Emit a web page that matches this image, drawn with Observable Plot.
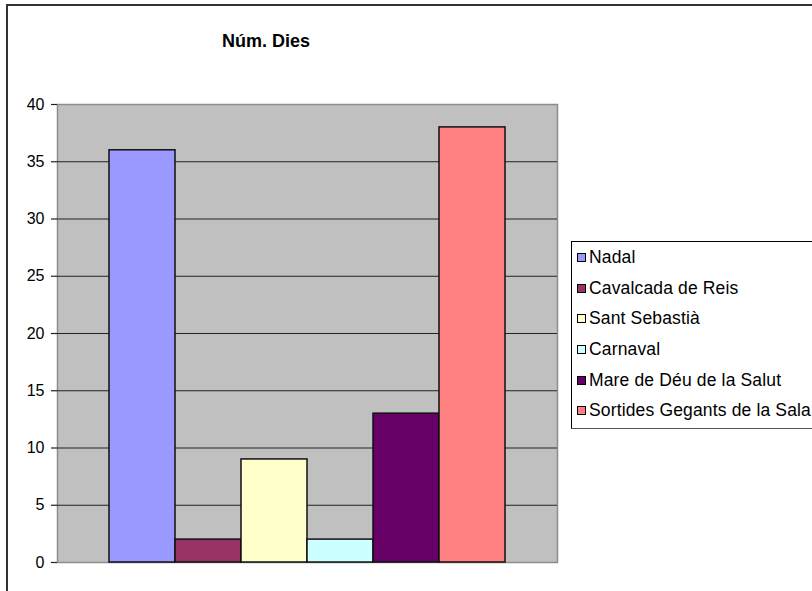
<!DOCTYPE html>
<html>
<head>
<meta charset="utf-8">
<script src="https://cdn.jsdelivr.net/npm/d3@7"></script>
<script src="https://cdn.jsdelivr.net/npm/@observablehq/plot@0.6"></script>
<style>
  html, body { margin: 0; padding: 0; background: #fff; }
  #wrap { position: relative; width: 812px; height: 591px; overflow: hidden; font-family: "Liberation Sans", Arial, sans-serif; }
  #outer { position: absolute; left: 6px; top: 4px; width: 900px; height: 700px; border: 2px solid #333; }
  #title { position: absolute; left: 0; width: 532px; top: 30px; text-align: center; font-family: "Liberation Sans Narrow", "Liberation Sans", Arial, sans-serif; font-weight: bold; font-size: 18px; line-height: 22px; color: #000; }
  #chart { position: absolute; left: 0; top: 0; }
  #legend { position: absolute; left: 571px; top: 241px; width: 300px; height: 186px; border: 1px solid #000; border-bottom-color: #555; background: #fff; }
  .item { height: 30.7px; display: flex; align-items: center; font-size: 17.5px; color: #000; white-space: nowrap; letter-spacing: 0.15px; }
  .sw { width: 7px; height: 7px; border: 1px solid #000; margin-left: 5px; margin-right: 3px; flex: none; }
</style>
</head>
<body>
<div id="wrap">
  <div id="outer"></div>
  <div id="chart"></div>
  <div id="title"></div>
  <div id="legend"></div>
</div>
<script>
const titleText = "Núm. Dies";
const categories = ["Nadal", "Cavalcada de Reis", "Sant Sebastià", "Carnaval", "Mare de Déu de la Salut", "Sortides Gegants de la Sala"];
const values = [36, 2, 9, 2, 13, 38];
const colors = ["#9999ff", "#993366", "#ffffcc", "#ccffff", "#660066", "#ff8080"];
const yTicks = [0, 5, 10, 15, 20, 25, 30, 35, 40];

const data = categories.map((name, i) => ({name, value: values[i]}));

const chart = Plot.plot({
  width: 812,
  height: 591,
  marginLeft: 57,
  marginRight: 255,
  marginTop: 104,
  marginBottom: 29,
  style: { fontFamily: "'Liberation Sans', Arial, sans-serif", fontSize: "16px", color: "#000", background: "transparent", overflow: "visible" },
  x: { domain: categories, paddingInner: 0, paddingOuter: 0.75, axis: null },
  y: { domain: [0, 40], axis: null },
  color: { domain: categories, range: colors },
  marks: [
    Plot.frame({ fill: "#c0c0c0", stroke: "#8c8c8c", strokeWidth: 1.5 }),
    Plot.gridY(yTicks.filter(t => t > 0 && t < 40), { stroke: "#222", strokeOpacity: 1, strokeWidth: 1.2 }),
    Plot.barY(data, { x: "name", y: "value", fill: "name", stroke: "#111", strokeWidth: 1.5 }),
    Plot.axisY({ ticks: yTicks, tickSize: 6, tickPadding: 7, label: null, stroke: "#222", strokeWidth: 1.2, fontSize: 16 })
  ]
});
document.getElementById("chart").appendChild(chart);
document.getElementById("title").textContent = titleText;

const legend = document.getElementById("legend");
categories.forEach((c, i) => {
  const row = document.createElement("div");
  row.className = "item";
  const sw = document.createElement("span");
  sw.className = "sw";
  sw.style.background = colors[i];
  const t = document.createElement("span");
  t.textContent = c;
  row.appendChild(sw);
  row.appendChild(t);
  legend.appendChild(row);
});
</script>
</body>
</html>
